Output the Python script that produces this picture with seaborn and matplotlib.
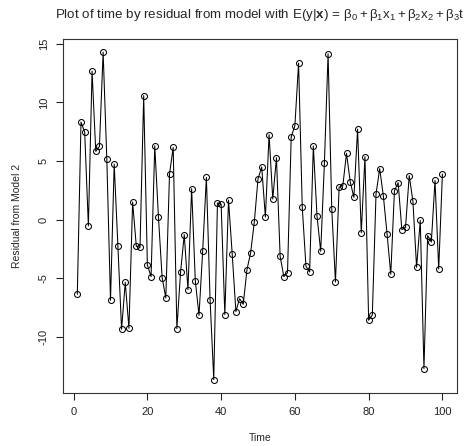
import matplotlib
matplotlib.use("Agg")
import matplotlib.pyplot as plt
import seaborn as sns
import pandas as pd

time = list(range(1, 101))
residual = [
    -6.37, 8.32, 7.47, -0.54, 12.67, 5.82, 6.25, 14.29, 5.17, -6.88,
    4.74, -2.22, -9.35, -5.35, -9.27, 1.50, -2.28, -2.36, 10.57, -3.87,
    -4.86, 6.30, 0.22, -4.95, -6.68, 3.89, 6.16, -9.30, -4.46, -1.28,
    -5.97, 2.64, -5.23, -8.16, -2.64, 3.61, -6.82, -13.64, 1.42, 1.33,
    -8.10, 1.67, -2.93, -7.84, -6.74, -7.22, -4.27, -2.82, -0.20, 3.49,
    4.49, 0.22, 7.25, 1.76, 5.28, -3.13, -4.86, -4.52, 7.07, 8.01,
    13.35, 1.05, -3.98, -4.46, 6.28, 0.31, -2.70, 4.80, 14.15, 0.90,
    -5.32, 2.78, 2.90, 5.65, 3.24, 1.90, 7.72, -1.11, 5.37, -8.58,
    -8.13, 2.19, 4.35, 1.99, -1.23, -4.66, 2.47, 3.15, -0.85, -0.66,
    3.75, 1.59, -4.07, -0.06, -12.70, -1.36, -1.91, 3.35, -4.21, 3.89,
]
x_ticks = [0, 20, 40, 60, 80, 100]
y_ticks = [-10, -5, 0, 5, 10, 15]
y_tick_labels = ["-10", "-5", "0", "5", "10", "15"]

df = pd.DataFrame({"Time": time, "Residual": residual})

sns.set_style("white")
plt.rcParams["font.family"] = ["Liberation Sans", "DejaVu Sans"]
plt.rcParams["mathtext.fontset"] = "custom"
plt.rcParams["mathtext.rm"] = "Liberation Sans"
plt.rcParams["mathtext.it"] = "Liberation Sans"
plt.rcParams["mathtext.bf"] = "Liberation Sans:bold"
plt.rcParams["mathtext.default"] = "regular"

fig = plt.figure(figsize=(4.68, 4.46), dpi=100)
ax = fig.add_axes([0.134, 0.1195, 0.8425, 0.7931])

sns.lineplot(data=df, x="Time", y="Residual", ax=ax, color="black",
             linewidth=0.75, marker="o", markersize=4.3,
             markerfacecolor="none", markeredgecolor="black",
             markeredgewidth=0.75)

ax.set_xlim(-2.96, 103.96)
ax.set_ylim(-14.76, 15.41)
ax.set_xticks(x_ticks)
ax.set_xticklabels([str(v) for v in x_ticks])
ax.set_yticks(y_ticks)
ax.set_yticklabels(y_tick_labels, rotation=90, va="center")

ax.tick_params(axis="both", direction="out", length=5, width=0.8,
               labelsize=8, colors="#222222", pad=5,
               bottom=True, left=True, top=False, right=False)
for s in ax.spines.values():
    s.set_visible(True)
    s.set_color("#333333")
    s.set_linewidth(0.8)

ax.set_xlabel("Time", fontsize=7.5, labelpad=12)
ax.set_ylabel("Residual from Model 2", fontsize=7.5, labelpad=12)
ax.set_title(r"Plot of time by residual from model with "
             r"$E(y|\mathbf{x})\,=\,\beta_0+\beta_1 x_1+\beta_2 x_2+\beta_3 t$",
             fontsize=9.6, pad=15)

fig.savefig("out.png", dpi=100)
